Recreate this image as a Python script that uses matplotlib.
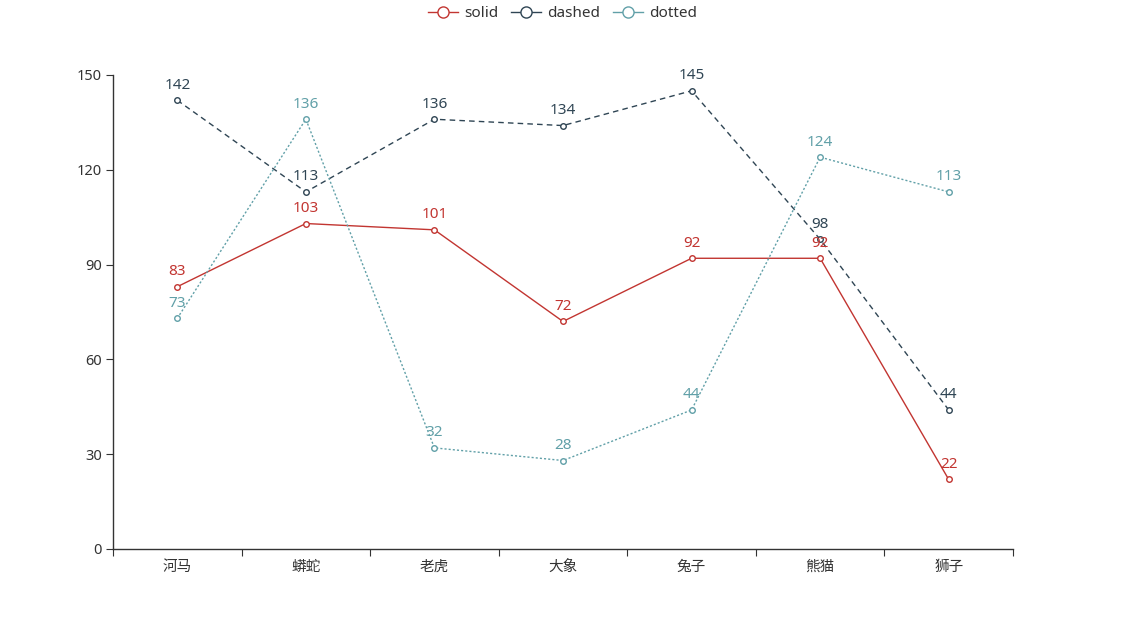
import numpy as np
import matplotlib.pyplot as plt
from matplotlib.lines import Line2D

plt.rcParams['font.family'] = ['Noto Sans', 'Noto Sans CJK SC', 'DejaVu Sans']

categories = ['河马', '蟒蛇', '老虎', '大象', '兔子', '熊猫', '狮子']
solid = [83, 103, 101, 72, 92, 92, 22]
dashed = [142, 113, 136, 134, 145, 98, 44]
dotted = [73, 136, 32, 28, 44, 124, 113]

names = ['solid', 'dashed', 'dotted']
colors = ['#c23531', '#2f4554', '#61a0a8']
styles = ['-', (0, (4, 3)), (0, (1.5, 1.5))]

fig = plt.figure(figsize=(11.25, 6.25), dpi=100)
ax = fig.add_axes([113 / 1125, 1 - 549 / 625, 900 / 1125, 474 / 625])

x = np.arange(len(categories))
for vals, name, c, ls in zip([solid, dashed, dotted], names, colors, styles):
    ax.plot(x, vals, color=c, lw=1, ls=ls, marker='o', ms=4,
            mfc='white', mec=c, mew=1, zorder=3)
    for xi, v in zip(x, vals):
        ax.annotate(str(v), (xi, v), xytext=(0, 5.5), textcoords='offset points',
                    ha='center', va='bottom', fontsize=11, color=c, zorder=4)

ax.set_xlim(-0.5, len(categories) - 0.5)
ax.set_ylim(0, 150)
ax.set_yticks([0, 30, 60, 90, 120, 150])
ax.set_xticks(np.arange(-0.5, len(categories), 1))
ax.set_xticklabels([])
ax.set_xticks(x, minor=True)
ax.set_xticklabels(categories, minor=True)
ax.tick_params(axis='x', which='minor', length=0, pad=8, labelsize=10.5, labelcolor='#333333')
ax.tick_params(axis='x', which='major', length=5, color='#333333')
ax.tick_params(axis='y', length=5, color='#333333', labelsize=10.5, labelcolor='#333333', pad=3)
for s in ['top', 'right']:
    ax.spines[s].set_visible(False)
for s in ['left', 'bottom']:
    ax.spines[s].set_color('#333333')
    ax.spines[s].set_linewidth(1)

handles = [Line2D([0], [0], color=c, lw=1, marker='o', ms=8, mfc='white', mec=c, mew=1)
           for c in colors]
fig.legend(handles, names, loc='upper center', bbox_to_anchor=(0.5, 1.012), ncol=3,
           frameon=False, fontsize=11, handlelength=2.0, handletextpad=0.4,
           columnspacing=0.8, labelcolor='#333333')

fig.savefig('out.png', dpi=100)
